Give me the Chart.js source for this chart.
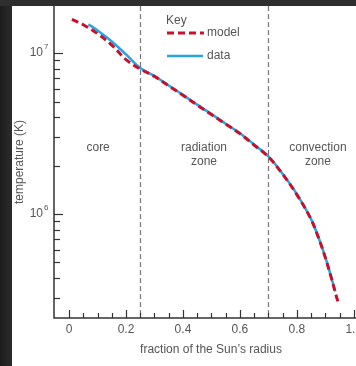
<!DOCTYPE html>
<html>
<head>
<meta charset="utf-8">
<script src="https://cdn.jsdelivr.net/npm/chart.js@4"></script>
<style>
  html, body { margin: 0; padding: 0; background: #2b2b2b; overflow: hidden; }
  #chart { position: absolute; left: 0; top: 0; }
</style>
</head>
<body>
<canvas id="chart" width="380" height="366"></canvas>
<script>
// fraction of radius / temperature (K)
const modelR = [0.01, 0.05, 0.10, 0.15, 0.20, 0.25, 0.30, 0.35, 0.40, 0.45, 0.50, 0.55,
  0.60, 0.65, 0.70, 0.75, 0.80, 0.85, 0.88, 0.90, 0.92, 0.94, 0.945];
const modelT = [1.62e7, 1.50e7, 1.32e7, 1.12e7, 9.1e6, 7.95e6, 7.16e6, 6.25e6, 5.46e6, 4.75e6, 4.15e6, 3.62e6,
  3.16e6, 2.68e6, 2.27e6, 1.77e6, 1.32e6, 9.27e5, 6.82e5, 5.36e5, 4.08e5, 3.03e5, 2.84e5];

const dataR = [0.068, 0.10, 0.15, 0.20, 0.25, 0.30, 0.35, 0.40, 0.45, 0.50, 0.55,
  0.60, 0.65, 0.70, 0.75, 0.80, 0.85, 0.88, 0.90, 0.92, 0.935];
const dataT = [1.51e7, 1.38e7, 1.18e7, 9.8e6, 8.07e6, 7.2e6, 6.28e6, 5.5e6, 4.78e6, 4.18e6, 3.64e6,
  3.18e6, 2.7e6, 2.28e6, 1.78e6, 1.33e6, 9.3e5, 6.85e5, 5.4e5, 4.1e5, 3.3e5];

const xTicks = [0, 0.2, 0.4, 0.6, 0.8, 1.0];
const xTickLabels = ["0", "0.2", "0.4", "0.6", "0.8", "1.0"];
const yTicks = [1e6, 1e7];
const yTickExp = ["6", "7"];
const boundaries = [0.25, 0.7];
const zones = [
  { x: 0.102, lines: ["core"] },
  { x: 0.474, lines: ["radiation", "zone"] },
  { x: 0.874, lines: ["convection", "zone"] }
];

const FONT = "'Liberation Sans', Arial, sans-serif";
const TXT = "#555";
const RED = "#c8102e";
const BLUE = "#26a6df";

const toPts = (xs, ys) => xs.map((x, i) => ({ x: x, y: ys[i] }));

const decor = {
  id: "decor",
  beforeDraw(chart) {
    const c = chart.ctx;
    c.save();
    c.fillStyle = "#2e2e2e";
    c.fillRect(0, 0, chart.width, chart.height);
    const g = c.createLinearGradient(0, 0, 12, 0);
    g.addColorStop(0, "#1c1c1c");
    g.addColorStop(1, "#2c2c2c");
    c.fillStyle = g;
    c.fillRect(0, 6, 12, chart.height);
    c.fillStyle = "#fff";
    c.fillRect(12, 6, chart.width, chart.height);
    c.restore();
  },
  beforeDatasetsDraw(chart) {
    const c = chart.ctx, a = chart.chartArea;
    const xs = chart.scales.x;
    c.save();
    // zone boundaries
    c.strokeStyle = "#777";
    c.lineWidth = 1.2;
    c.setLineDash([5, 3]);
    boundaries.forEach(b => {
      const px = Math.round(xs.getPixelForValue(b)) + 0.5;
      c.beginPath();
      c.moveTo(px, a.top);
      c.lineTo(px, a.bottom);
      c.stroke();
    });
    c.restore();
  },
  afterDraw(chart) {
    const c = chart.ctx, a = chart.chartArea;
    const xs = chart.scales.x, ys = chart.scales.y;
    c.save();
    // axes
    c.strokeStyle = "#333";
    c.lineWidth = 1.5;
    c.beginPath();
    c.moveTo(a.left, a.top);
    c.lineTo(a.left, a.bottom);
    c.lineTo(a.right, a.bottom);
    c.stroke();

    // x ticks (inside)
    c.lineWidth = 1.2;
    for (let k = 0; k <= 20; k++) {
      const v = k * 0.05;
      const px = Math.round(xs.getPixelForValue(v)) + 0.5;
      const len = k % 4 === 0 ? 8 : 5;
      c.beginPath();
      c.moveTo(px, a.bottom);
      c.lineTo(px, a.bottom - len);
      c.stroke();
    }
    // y ticks (inside, log minors)
    for (let e = 5; e <= 7; e++) {
      for (let m = 1; m <= 9; m++) {
        const v = m * Math.pow(10, e);
        if (v < ys.min || v > ys.max) continue;
        const py = Math.round(ys.getPixelForValue(v)) + 0.5;
        const len = m === 1 ? 9 : 6;
        c.beginPath();
        c.moveTo(a.left, py);
        c.lineTo(a.left + len, py);
        c.stroke();
      }
    }

    // tick labels
    c.fillStyle = TXT;
    c.font = "12px " + FONT;
    c.textAlign = "center";
    c.textBaseline = "middle";
    xTicks.forEach((v, i) => {
      c.fillText(xTickLabels[i], xs.getPixelForValue(v), a.bottom + 12);
    });
    yTicks.forEach((v, i) => {
      const py = ys.getPixelForValue(v);
      c.font = "12px " + FONT;
      c.textAlign = "right";
      c.fillText("10", 43, py);
      c.font = "8px " + FONT;
      c.textAlign = "left";
      c.fillText(yTickExp[i], 44, py - 6);
    });

    // axis titles
    c.font = "12px " + FONT;
    c.textAlign = "center";
    c.fillText("fraction of the Sun\u2019s radius", (a.left + a.right) / 2, a.bottom + 32);
    c.save();
    c.translate(20, (a.top + a.bottom) / 2);
    c.rotate(-Math.PI / 2);
    c.fillText("temperature (K)", 0, 0);
    c.restore();

    // zone labels
    const zy = a.top + 142;
    zones.forEach(z => {
      const px = xs.getPixelForValue(z.x);
      z.lines.forEach((t, j) => c.fillText(t, px, zy + j * 14));
    });

    // key
    c.textAlign = "left";
    c.fillText("Key", 166, 21);
    c.fillText("model", 207, 33);
    c.fillText("data", 207, 56);
    c.lineWidth = 3;
    c.strokeStyle = RED;
    c.setLineDash([7, 4]);
    c.beginPath();
    c.moveTo(167, 33);
    c.lineTo(204, 33);
    c.stroke();
    c.setLineDash([]);
    c.lineWidth = 2.5;
    c.strokeStyle = BLUE;
    c.beginPath();
    c.moveTo(167, 56);
    c.lineTo(203, 56);
    c.stroke();
    c.restore();
  }
};

new Chart(document.getElementById("chart"), {
  type: "line",
  data: {
    datasets: [{
      label: "model",
      data: toPts(modelR, modelT),
      borderColor: RED,
      borderWidth: 3,
      borderDash: [7, 4],
      pointRadius: 0,
      tension: 0.35,
      fill: false
    }, {
      label: "data",
      data: toPts(dataR, dataT),
      borderColor: BLUE,
      borderWidth: 2.5,
      pointRadius: 0,
      tension: 0.35,
      fill: false
    }]
  },
  options: {
    responsive: false,
    animation: false,
    layout: { padding: { left: 54, right: 12, top: 6, bottom: 48 } },
    plugins: { legend: { display: false }, tooltip: { enabled: false } },
    scales: {
      x: { type: "linear", min: -0.053, max: 1.05, display: false },
      y: { type: "logarithmic", min: 2.26e5, max: 1.96e7, display: false }
    }
  },
  plugins: [decor]
});
</script>
</body>
</html>
